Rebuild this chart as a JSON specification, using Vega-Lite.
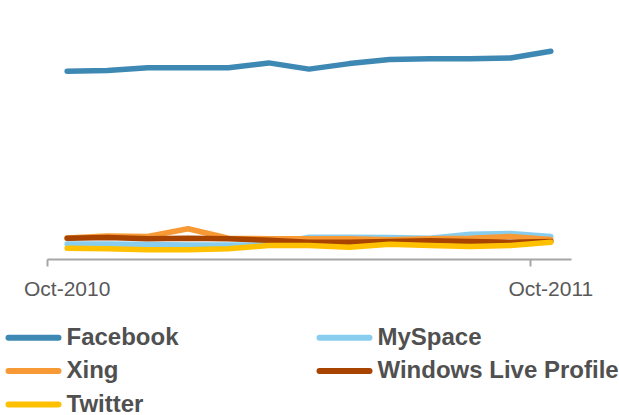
{
  "$schema": "https://vega.github.io/schema/vega-lite/v6.json",
  "width": 524,
  "height": 250,
  "autosize": {"type": "none"},
  "padding": {"left": 47, "top": 9, "right": 48, "bottom": 156},
  "background": "white",
  "config": {"view": {"stroke": null}},
  "data": {"values": [
    {"month": "Oct-2010", "network": "Facebook", "value": 187.8},
    {"month": "Nov-2010", "network": "Facebook", "value": 188.5},
    {"month": "Dec-2010", "network": "Facebook", "value": 191.3},
    {"month": "Jan-2011", "network": "Facebook", "value": 191.3},
    {"month": "Feb-2011", "network": "Facebook", "value": 191.3},
    {"month": "Mar-2011", "network": "Facebook", "value": 196.1},
    {"month": "Apr-2011", "network": "Facebook", "value": 189.9},
    {"month": "May-2011", "network": "Facebook", "value": 195.4},
    {"month": "Jun-2011", "network": "Facebook", "value": 199.6},
    {"month": "Jul-2011", "network": "Facebook", "value": 200.3},
    {"month": "Aug-2011", "network": "Facebook", "value": 200.3},
    {"month": "Sep-2011", "network": "Facebook", "value": 201.0},
    {"month": "Oct-2011", "network": "Facebook", "value": 207.8},
    {"month": "Oct-2010", "network": "MySpace", "value": 15.0},
    {"month": "Nov-2010", "network": "MySpace", "value": 15.0},
    {"month": "Dec-2010", "network": "MySpace", "value": 14.5},
    {"month": "Jan-2011", "network": "MySpace", "value": 14.0},
    {"month": "Feb-2011", "network": "MySpace", "value": 14.0},
    {"month": "Mar-2011", "network": "MySpace", "value": 14.0},
    {"month": "Apr-2011", "network": "MySpace", "value": 21.8},
    {"month": "May-2011", "network": "MySpace", "value": 21.8},
    {"month": "Jun-2011", "network": "MySpace", "value": 21.5},
    {"month": "Jul-2011", "network": "MySpace", "value": 20.8},
    {"month": "Aug-2011", "network": "MySpace", "value": 24.8},
    {"month": "Sep-2011", "network": "MySpace", "value": 25.5},
    {"month": "Oct-2011", "network": "MySpace", "value": 22.5},
    {"month": "Oct-2010", "network": "Xing", "value": 21.0},
    {"month": "Nov-2010", "network": "Xing", "value": 23.0},
    {"month": "Dec-2010", "network": "Xing", "value": 22.5},
    {"month": "Jan-2011", "network": "Xing", "value": 30.2},
    {"month": "Feb-2011", "network": "Xing", "value": 20.8},
    {"month": "Mar-2011", "network": "Xing", "value": 20.2},
    {"month": "Apr-2011", "network": "Xing", "value": 20.2},
    {"month": "May-2011", "network": "Xing", "value": 20.2},
    {"month": "Jun-2011", "network": "Xing", "value": 19.2},
    {"month": "Jul-2011", "network": "Xing", "value": 20.2},
    {"month": "Aug-2011", "network": "Xing", "value": 20.8},
    {"month": "Sep-2011", "network": "Xing", "value": 22.5},
    {"month": "Oct-2011", "network": "Xing", "value": 19.5},
    {"month": "Oct-2010", "network": "Windows Live Profile", "value": 20.8},
    {"month": "Nov-2010", "network": "Windows Live Profile", "value": 21.5},
    {"month": "Dec-2010", "network": "Windows Live Profile", "value": 20.2},
    {"month": "Jan-2011", "network": "Windows Live Profile", "value": 20.8},
    {"month": "Feb-2011", "network": "Windows Live Profile", "value": 20.2},
    {"month": "Mar-2011", "network": "Windows Live Profile", "value": 18.8},
    {"month": "Apr-2011", "network": "Windows Live Profile", "value": 16.8},
    {"month": "May-2011", "network": "Windows Live Profile", "value": 16.8},
    {"month": "Jun-2011", "network": "Windows Live Profile", "value": 17.5},
    {"month": "Jul-2011", "network": "Windows Live Profile", "value": 18.2},
    {"month": "Aug-2011", "network": "Windows Live Profile", "value": 17.5},
    {"month": "Sep-2011", "network": "Windows Live Profile", "value": 16.8},
    {"month": "Oct-2011", "network": "Windows Live Profile", "value": 17.5},
    {"month": "Oct-2010", "network": "Twitter", "value": 10.8},
    {"month": "Nov-2010", "network": "Twitter", "value": 10.2},
    {"month": "Dec-2010", "network": "Twitter", "value": 9.2},
    {"month": "Jan-2011", "network": "Twitter", "value": 9.2},
    {"month": "Feb-2011", "network": "Twitter", "value": 10.2},
    {"month": "Mar-2011", "network": "Twitter", "value": 13.5},
    {"month": "Apr-2011", "network": "Twitter", "value": 13.5},
    {"month": "May-2011", "network": "Twitter", "value": 11.8},
    {"month": "Jun-2011", "network": "Twitter", "value": 14.8},
    {"month": "Jul-2011", "network": "Twitter", "value": 13.5},
    {"month": "Aug-2011", "network": "Twitter", "value": 12.5},
    {"month": "Sep-2011", "network": "Twitter", "value": 13.5},
    {"month": "Oct-2011", "network": "Twitter", "value": 16.8}
  ]},
  "mark": {"type": "line", "strokeWidth": 5.5, "strokeCap": "round", "strokeJoin": "round"},
  "encoding": {
    "x": {
      "field": "month",
      "type": "ordinal",
      "sort": null,
      "scale": {"type": "band", "paddingInner": 0, "paddingOuter": 0},
      "axis": {
        "title": null,
        "values": ["Oct-2010", "Oct-2011"],
        "labelAngle": 0,
        "bandPosition": 0,
        "labelOffset": 0,
        "domainColor": "#A6A6A6",
        "domainWidth": 2,
        "tickColor": "#A6A6A6",
        "tickWidth": 2,
        "tickSize": 7,
        "labelFont": "Liberation Sans",
        "labelFontSize": 21,
        "labelColor": "#595959",
        "labelPadding": 12,
        "labelOverlap": false,
        "labelBound": false,
        "grid": false
      }
    },
    "y": {
      "field": "value",
      "type": "quantitative",
      "scale": {"domain": [0, 250], "nice": false, "zero": true},
      "axis": null
    },
    "color": {
      "field": "network",
      "type": "nominal",
      "scale": {
        "domain": ["Facebook", "MySpace", "Xing", "Windows Live Profile", "Twitter"],
        "range": ["#3E89B4", "#89CDEE", "#F79A36", "#A84400", "#FFC000"]
      },
      "legend": {
        "title": null,
        "orient": "none",
        "direction": "horizontal",
        "legendX": -54,
        "legendY": 313,
        "columns": 2,
        "padding": 0,
        "symbolType": "M0,0H4",
        "symbolSize": 625,
        "symbolStrokeWidth": 6,
        "labelFont": "Liberation Sans",
        "labelFontSize": 24,
        "labelFontWeight": "bold",
        "labelColor": "#505050",
        "labelOffset": 42.5,
        "labelLimit": 300,
        "columnPadding": 125,
        "rowPadding": 5.5,
        "encode": {"symbols": {"update": {"strokeCap": {"value": "round"}}}}
      }
    }
  }
}
